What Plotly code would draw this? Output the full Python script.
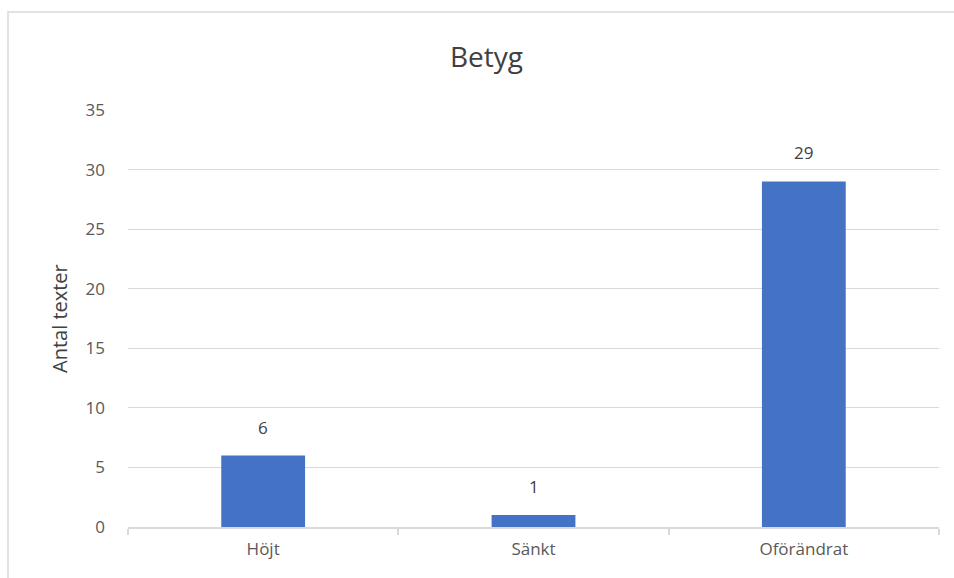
import plotly.graph_objects as go

categories = ["Höjt", "Sänkt", "Oförändrat"]
values = [6, 1, 29]
y_ticks = [0, 5, 10, 15, 20, 25, 30, 35]

W, H = 954, 578
ml, mr, mt, mb = 128, 15, 110, 51
pw = W - ml - mr
ph = H - mt - mb
FONT = "Open Sans, sans-serif"

fig = go.Figure()
fig.add_trace(go.Bar(
    x=categories, y=values,
    marker=dict(color="#4472C4", line=dict(width=0)),
    width=0.31,
))

for c, v in zip(categories, values):
    fig.add_annotation(x=c, y=v, text=str(v), showarrow=False,
                       yanchor="bottom", yshift=15,
                       font=dict(family=FONT, size=17, color="#404040"))

# chart border
fig.add_shape(type="rect", xref="paper", yref="paper",
              x0=(8 - ml) / pw, x1=(970 - ml) / pw,
              y0=-(600 - (H - mb)) / ph, y1=1 + (mt - 12) / ph,
              line=dict(color="#d9d9d9", width=1.5), layer="below")

fig.add_annotation(xref="paper", yref="paper", x=(59 - ml) / pw, y=(H - mb - 319) / ph,
                   xanchor="center", yanchor="middle",
                   text="Antal texter", textangle=-90, showarrow=False,
                   font=dict(family=FONT, size=20, color="#404040"))

fig.update_layout(
    width=W, height=H,
    margin=dict(l=ml, r=mr, t=mt, b=mb),
    paper_bgcolor="white", plot_bgcolor="white",
    title=dict(text="Betyg", xref="container", x=0.51, xanchor="center",
               yref="container", y=1 - 57 / H, yanchor="middle",
               font=dict(family=FONT, size=28, color="#404040")),
    showlegend=False,
    font=dict(family=FONT, color="#595959"),
)
fig.update_xaxes(
    showgrid=False, showline=True, linecolor="#d9d9d9", linewidth=1.5,
    ticks="outside", ticklen=6, tickcolor="#d9d9d9", tickwidth=1.5,
    tickson="boundaries", ticklabelstandoff=6,
    tickfont=dict(size=17, color="#595959"),
)
fig.update_yaxes(
    range=[0, 35], tickvals=y_ticks, showgrid=True, gridcolor="#d9d9d9", gridwidth=1.2,
    zeroline=False, showline=False, ticks="",
    ticklabelstandoff=22,
    tickfont=dict(size=17, color="#595959"),
)

fig.write_html("out.html")
